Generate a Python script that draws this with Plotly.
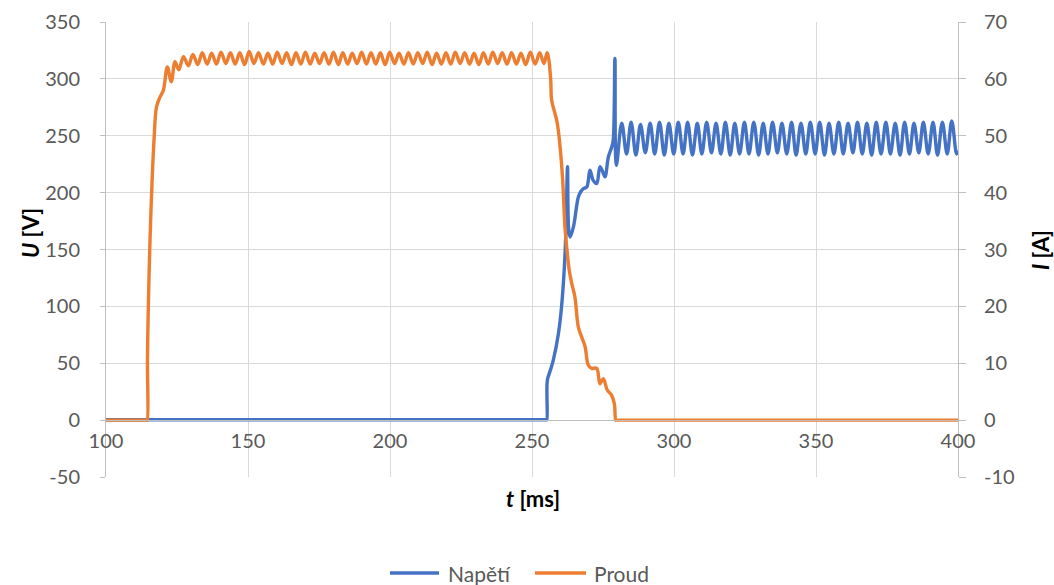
import plotly.graph_objects as go

# ---------------- data ----------------
# Napětí (voltage, V) - left axis
volt_t = [100.0, 255.0, 255.2, 255.4, 256.5, 257.5, 259.3, 260.4, 261.4, 262.0, 262.5, 262.9,
          263.4, 264.6, 266.3, 267.2, 268.1, 269.3, 270.4, 271.5, 272.8, 273.9, 274.8, 275.7,
          276.9, 278.1, 278.6, 279.2, 279.7,
          281.6, 283.3, 284.9, 286.6, 288.2, 289.9, 291.6, 293.2, 294.9, 296.6, 298.2, 299.9,
          301.5, 303.2, 304.8, 306.5, 308.2, 309.8, 311.5, 313.2, 314.8, 316.5, 318.1, 319.8,
          321.4, 323.1, 324.8, 326.4, 328.1, 329.8, 331.4, 333.1, 334.7, 336.4, 338.0, 339.7,
          341.4, 343.0, 344.7, 346.4, 348.0, 349.7, 351.3, 353.0, 354.6, 356.3, 358.0, 359.6,
          361.3, 363.0, 364.6, 366.3, 367.9, 369.6, 371.2, 372.9, 374.6, 376.2, 377.9, 379.6,
          381.2, 382.9, 384.5, 386.2, 387.8, 389.5, 391.2, 392.8, 394.5, 396.2, 397.8, 399.5,
          400.0]
volt_v = [0.3, 0.3, 0.3, 35.0, 44.0, 52.7, 76.0, 99.6, 134.8, 170.0, 222.7, 168.0,
          161.0, 170.0, 196.0, 201.0, 203.6, 205.0, 219.8, 211.0, 208.0, 222.7, 219.0, 213.9,
          231.5, 240.3, 246.0, 318.0, 224.0,
          261, 234, 262, 233, 260, 235, 261, 234, 262, 233, 261, 234,
          262, 234, 262, 233, 261, 234, 262, 235, 261, 234, 262, 233,
          261, 234, 262, 234, 262, 233, 261, 234, 262, 235, 261, 234,
          262, 233, 261, 234, 262, 234, 262, 233, 261, 234, 262, 234,
          261, 235, 262, 234, 261, 233, 262, 234, 262, 234, 261, 233,
          262, 234, 261, 235, 262, 234, 262, 233, 262, 234, 263, 234,
          237]

# Proud (current, A) - right axis
cur_t = [100.0, 114.3, 114.5, 114.6, 114.9, 115.5, 116.1, 116.9, 117.8, 119.0, 120.2, 121.6,
         123.0, 124.3, 125.6,
         127.3, 129.0, 130.6, 132.3, 133.9, 135.6, 137.2, 138.9, 140.5, 142.2, 143.8, 145.5,
         147.1, 148.8, 150.4, 152.1, 153.7, 155.4, 157.0, 158.7, 160.3, 162.0, 163.6, 165.3,
         166.9, 168.6, 170.2, 171.9, 173.5, 175.2, 176.8, 178.5, 180.1, 181.8, 183.4, 185.1,
         186.7, 188.4, 190.0, 191.7, 193.3, 195.0, 196.6, 198.3, 199.9, 201.6, 203.2, 204.9,
         206.5, 208.2, 209.8, 211.5, 213.1, 214.8, 216.4, 218.1, 219.7, 221.4, 223.0, 224.7,
         226.3, 228.0, 229.6, 231.3, 232.9, 234.6, 236.2, 237.9, 239.5, 241.2, 242.8, 244.5,
         246.1, 247.8, 249.4, 251.1, 252.7, 254.2, 255.3,
         255.8, 256.6, 256.9, 258.1, 258.9, 259.9, 260.8, 261.6, 262.2, 263.1, 264.0, 265.1,
         266.3, 267.5, 268.7, 269.8, 271.0, 272.8, 273.9, 275.1, 276.5, 278.0, 279.0, 279.5,
         279.8, 400.0]
cur_v = [0.0, 0.0, 0.0, 10.5, 19.9, 31.7, 40.4, 49.2, 55.1, 56.8, 58.0, 62.1,
         59.5, 63.0, 61.6,
         63.9, 62.3, 64.3, 62.5, 64.6, 62.6, 64.5, 62.6, 64.7, 62.7, 64.6, 62.6,
         64.6, 62.5, 64.8, 62.7, 64.6, 62.6, 64.5, 62.6, 64.7, 62.7, 64.6, 62.5,
         64.6, 62.6, 64.7, 62.6, 64.5, 62.7, 64.6, 62.6, 64.7, 62.5, 64.6, 62.6,
         64.5, 62.7, 64.7, 62.6, 64.6, 62.6, 64.6, 62.5, 64.7, 62.7, 64.5, 62.6,
         64.6, 62.6, 64.6, 62.7, 64.7, 62.5, 64.5, 62.6, 64.6, 62.6, 64.7, 62.7,
         64.6, 62.6, 64.5, 62.5, 64.6, 62.6, 64.7, 62.7, 64.6, 62.6, 64.6, 62.6,
         64.5, 62.5, 64.7, 62.6, 64.6, 62.7, 64.6,
         63.8, 59.8, 56.3, 53.9, 52.2, 48.0, 42.2, 34.0, 30.5, 26.4, 24.0, 21.7,
         16.4, 14.6, 12.9, 9.7, 9.1, 9.1, 6.4, 7.3, 5.3, 4.4, 2.9, 0.0,
         0.0, 0.0]

series_names = ["Napětí", "Proud"]
x_ticks = [100, 150, 200, 250, 300, 350, 400]
u_ticks = [-50, 0, 50, 100, 150, 200, 250, 300, 350]
i_ticks = [-10, 0, 10, 20, 30, 40, 50, 60, 70]

# ---------------- figure ----------------
BLUE = "#4472C4"
ORANGE = "#ED7D31"
GRID = "#d9d9d9"
AXL = "#bfbfbf"
TXT = "#595959"
FONT = "Lato, 'Open Sans', sans-serif"
LW = 3.4

fig = go.Figure()
fig.add_trace(go.Scatter(x=volt_t, y=volt_v, name=series_names[0], mode="lines",
                         line=dict(color=BLUE, width=LW, shape="spline", smoothing=1.0),
                         yaxis="y", showlegend=False))
fig.add_trace(go.Scatter(x=cur_t, y=cur_v, name=series_names[1], mode="lines",
                         line=dict(color=ORANGE, width=LW, shape="spline", smoothing=1.0),
                         yaxis="y2", showlegend=False))

# plot area in pixels: left 106, right 958, top 22, bottom 477
def px_x(p):
    return (p - 106) / 852.0

def px_y(p):
    return (477 - p) / 455.0

LEG_Y = px_y(573)
shapes = [
    dict(type="line", xref="paper", yref="paper", x0=px_x(390), x1=px_x(439), y0=LEG_Y, y1=LEG_Y,
         line=dict(color=BLUE, width=3.5)),
    dict(type="line", xref="paper", yref="paper", x0=px_x(535), x1=px_x(586), y0=LEG_Y, y1=LEG_Y,
         line=dict(color=ORANGE, width=3.5)),
]
annotations = [
    dict(text="<b><i>U</i> [V]</b>", x=px_x(30), y=px_y(233), xref="paper", yref="paper",
         xanchor="center", yanchor="middle",
         textangle=-90, showarrow=False, font=dict(size=22, color="black", family=FONT)),
    dict(text="<b><i>I</i> [A]</b>", x=px_x(1040), y=px_y(250), xref="paper", yref="paper",
         xanchor="center", yanchor="middle",
         textangle=-90, showarrow=False, font=dict(size=22, color="black", family=FONT)),
    dict(text="<b><i>t</i> [ms]</b>", x=px_x(533), y=px_y(498), xref="paper", yref="paper",
         xanchor="center", yanchor="middle",
         showarrow=False, font=dict(size=22, color="black", family=FONT)),
    dict(text=series_names[0], x=px_x(446), y=LEG_Y, xref="paper", yref="paper",
         xanchor="left", yanchor="middle", showarrow=False,
         font=dict(size=21, color=TXT, family=FONT)),
    dict(text=series_names[1], x=px_x(592), y=LEG_Y, xref="paper", yref="paper",
         xanchor="left", yanchor="middle", showarrow=False,
         font=dict(size=21, color=TXT, family=FONT)),
]

fig.update_layout(
    width=1054, height=585,
    margin=dict(l=106, r=96, t=22, b=108, autoexpand=False),
    paper_bgcolor="white", plot_bgcolor="white",
    font=dict(family=FONT, size=20, color=TXT),
    showlegend=False,
    xaxis=dict(range=[100, 400], tickvals=x_ticks, ticktext=[str(v) for v in x_ticks],
               showgrid=True, gridcolor=GRID, gridwidth=1,
               anchor="free", position=0.125, showline=True, linecolor=AXL, linewidth=1,
               zeroline=False, ticks="", tickfont=dict(size=20, color=TXT),
               ticklabelstandoff=3, automargin=False),
    yaxis=dict(range=[-50, 350], tickvals=u_ticks, ticktext=[str(v) for v in u_ticks],
               showgrid=True, gridcolor=GRID, gridwidth=1,
               showline=True, linecolor=AXL, linewidth=1, ticks="outside", ticklen=5,
               tickcolor=AXL, zeroline=False, tickfont=dict(size=20, color=TXT),
               ticklabelstandoff=16, automargin=False),
    yaxis2=dict(range=[-10, 70], tickvals=i_ticks, ticktext=[str(v) for v in i_ticks],
                overlaying="y", side="right", anchor="x",
                showgrid=False, showline=True, linecolor=AXL, linewidth=1, ticks="outside",
                ticklen=7, tickcolor=AXL, zeroline=False, tickfont=dict(size=20, color=TXT),
                ticklabelstandoff=14, automargin=False),
    shapes=shapes,
    annotations=annotations,
)

fig.write_html("out.html", config={"displayModeBar": False},
               post_script="document.body.style.margin='0px';document.body.style.overflow='hidden';")
